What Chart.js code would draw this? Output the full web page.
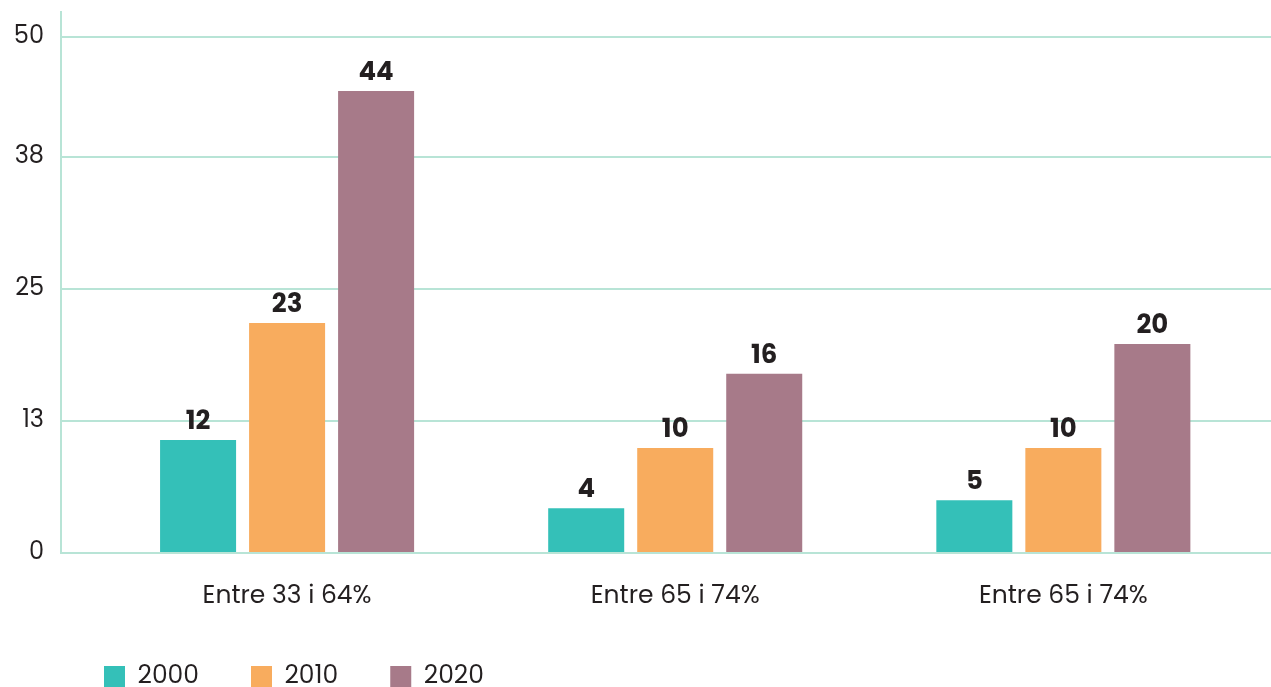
<!DOCTYPE html>
<html>
<head>
<meta charset="utf-8">
<script src="https://cdn.jsdelivr.net/npm/chart.js@4"></script>
<style>
  html, body { margin: 0; padding: 0; background: #fff; }
  #wrap { width: 1271px; height: 687px; }
</style>
</head>
<body>
<div id="wrap"><canvas id="chart"></canvas></div>
<script>
const groups = ['Entre 33 i 64%', 'Entre 65 i 74%', 'Entre 65 i 74%'];
const years = ['2000', '2010', '2020'];

// bar heights as drawn
const values2000 = [10.7, 4.25, 5.0];
const values2010 = [21.8, 9.95, 9.95];
const values2020 = [43.8, 17.0, 19.8];

// numbers printed above the bars
const shown2000 = [12, 4, 5];
const shown2010 = [23, 10, 10];
const shown2020 = [44, 16, 20];

// where the gridlines sit, and what they are labelled
const yTickValues = [0, 12.5, 25, 37.5, 48.9];
const yTickLabels = ['0', '13', '25', '38', '50'];

const colors = ['#34c0b8', '#f8ac5e', '#a77a89'];
const gridColor = '#b8e4d6';
const fontFamily = 'Poppins, Inter, "Noto Sans", sans-serif';

const toPoints = arr => arr.map((v, i) => ({ x: i, y: v }));
const shown = [shown2000, shown2010, shown2020];

const valueLabels = {
  id: 'valueLabels',
  afterDatasetsDraw(chart) {
    const ctx = chart.ctx;
    ctx.save();
    ctx.font = 'bold 26px ' + fontFamily;
    ctx.fillStyle = '#231f20';
    ctx.textAlign = 'center';
    ctx.textBaseline = 'alphabetic';
    chart.data.datasets.forEach((ds, i) => {
      chart.getDatasetMeta(i).data.forEach((bar, j) => {
        ctx.fillText(shown[i][j], bar.x, bar.y - 11);
      });
    });
    ctx.restore();
  }
};

// nudge the legend to where the reference has it, give x labels room
const legendShift = {
  id: 'legendShift',
  afterLayout(chart) {
    const lg = chart.legend;
    lg.left = 52;
    lg.top += 12;
    lg.bottom += 12;
    chart.scales.x.bottom += 30;
  }
};

new Chart(document.getElementById('chart'), {
  type: 'bar',
  data: {
    datasets: [
      { label: years[0], data: toPoints(values2000), backgroundColor: colors[0] },
      { label: years[1], data: toPoints(values2010), backgroundColor: colors[1] },
      { label: years[2], data: toPoints(values2020), backgroundColor: colors[2] },
    ]
  },
  options: {
    responsive: true,
    maintainAspectRatio: false,
    animation: false,
    layout: { padding: { top: 12 } },
    datasets: {
      bar: { categoryPercentage: 0.688, barPercentage: 0.854 }
    },
    plugins: {
      tooltip: { enabled: false },
      legend: {
        position: 'bottom',
        align: 'start',
        labels: {
          boxWidth: 21,
          boxHeight: 21,
          padding: 52,
          color: '#231f20',
          font: { family: fontFamily, size: 25 }
        }
      }
    },
    scales: {
      x: {
        type: 'linear',
        offset: false,
        min: -0.5825,
        max: 2.535,
        grid: { display: false },
        border: { display: false },
        afterBuildTicks: scale => { scale.ticks = groups.map((g, i) => ({ value: i })); },
        afterFit: scale => { scale.height = 47; },
        ticks: {
          autoSkip: false,
          maxRotation: 0,
          padding: 21,
          color: '#231f20',
          font: { family: fontFamily, size: 25 },
          callback: v => groups[v]
        }
      },
      y: {
        min: 0,
        max: 51.28,
        grid: { color: gridColor, lineWidth: 2, drawTicks: false },
        border: { display: true, color: gridColor, width: 2 },
        afterBuildTicks: scale => { scale.ticks = yTickValues.map(v => ({ value: v })); },
        afterFit: scale => {
          scale.width = 61;
          scale.paddingTop = 0;
          scale.paddingBottom = 0;
        },
        ticks: {
          padding: 17,
          color: '#231f20',
          font: { family: fontFamily, size: 24 },
          callback: (v, i) => yTickLabels[i]
        }
      }
    }
  },
  plugins: [valueLabels, legendShift]
});
</script>
</body>
</html>
